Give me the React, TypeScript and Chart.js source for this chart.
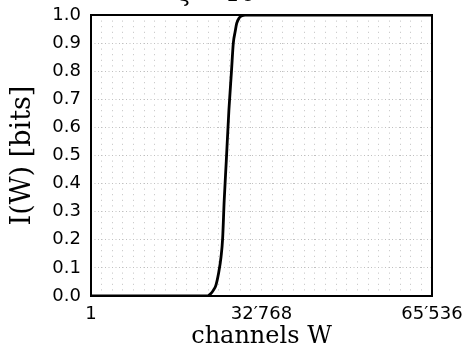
import React, { useEffect, useRef } from "react";
import { Chart, registerables } from "chart.js";

Chart.register(...registerables);

// Data
const channels = [1, 20000, 22000, 22500, 23000, 23500, 24000, 24500, 25000, 25300, 25600, 26000, 26500, 27000, 27350, 27700, 28000, 28500, 29000, 29600, 35000, 65536];
const info = [0, 0, 0, 0.001, 0.008, 0.02, 0.038, 0.079, 0.14, 0.205, 0.34, 0.48, 0.66, 0.8, 0.9, 0.94, 0.97, 0.99, 0.997, 1, 1, 1];

const xLabeledTicks = [1, 32768, 65536];
const xGridStep = 2048;
const xMin = 1;
const xMax = 65536;
const yTickStep = 0.1;

const titleText = "ξ = 10";
const xTitle = "channels W";
const yTitle = "I(W) [bits]";

function fmtThousands(v: number): string {
  return String(v).replace(/\B(?=(\d{3})+(?!\d))/g, "\u2032");
}

const framePlugin = {
  id: "frame",
  afterDraw(chart: any) {
    const { ctx, chartArea } = chart;
    ctx.save();
    ctx.strokeStyle = "#000";
    ctx.lineWidth = 2;
    ctx.setLineDash([]);
    ctx.strokeRect(chartArea.left, chartArea.top, chartArea.right - chartArea.left, chartArea.bottom - chartArea.top);
    ctx.restore();
  },
};

export default function App() {
  const ref = useRef<HTMLCanvasElement>(null);
  useEffect(() => {
    document.body.style.overflow = "hidden";
    const canvas = ref.current!;
    const points = channels.map((c, i) => ({ x: c, y: info[i] }));
    const chart = new Chart(canvas, {
      type: "line",
      data: {
        datasets: [
          {
            data: points,
            borderColor: "#000",
            borderWidth: 2.8,
            pointRadius: 0,
            cubicInterpolationMode: "monotone",
            fill: false,
          },
        ],
      },
      options: {
        animation: false,
        responsive: false,
        devicePixelRatio: 1,
        layout: { padding: { left: 0, right: 33, top: 0, bottom: 0 }, autoPadding: false },
        plugins: {
          legend: { display: false },
          tooltip: { enabled: false },
          title: {
            display: true,
            text: titleText,
            color: "#000",
            font: { family: "DejaVu Serif", size: 24, weight: "normal", lineHeight: 1 },
            padding: { top: 11, bottom: 8 },
          },
        },
        scales: {
          x: {
            type: "linear",
            min: xMin,
            max: xMax,
            afterBuildTicks: (scale: any) => {
              const t: any[] = [{ value: xMin }];
              for (let v = xGridStep; v <= xMax; v += xGridStep) t.push({ value: v });
              scale.ticks = t;
            },
            afterFit: (scale: any) => {
              scale.height = 56;
              scale.paddingLeft = 0;
              scale.paddingRight = 0;
            },
            ticks: {
              autoSkip: false,
              maxRotation: 0,
              padding: 8,
              color: "#000",
              font: { family: "DejaVu Sans", size: 18 },
              callback: (v: any) => (xLabeledTicks.includes(v) ? fmtThousands(v) : ""),
            },
            grid: { color: "#c0c0c0", lineWidth: 1, drawTicks: false },
            border: { display: false, dash: [1, 4.6] },
            title: {
              display: true,
              text: xTitle,
              color: "#000",
              font: { family: "DejaVu Serif", size: 24, lineHeight: 1 },
              padding: 3,
            },
          },
          y: {
            min: 0,
            max: 1,
            afterFit: (scale: any) => {
              scale.width = 91;
              scale.paddingTop = 0;
              scale.paddingBottom = 0;
            },
            ticks: {
              stepSize: yTickStep,
              padding: 10,
              color: "#000",
              font: { family: "DejaVu Sans", size: 18 },
              callback: (v: any) => Number(v).toFixed(1),
            },
            grid: { color: "#c0c0c0", lineWidth: 1, drawTicks: false },
            border: { display: false, dash: [1, 2.5] },
            title: {
              display: true,
              text: yTitle,
              color: "#000",
              font: { family: "DejaVu Serif", size: 27, lineHeight: 1 },
              padding: 9,
            },
          },
        },
      },
      plugins: [framePlugin],
    } as any);
    return () => chart.destroy();
  }, []);
  return (
    <div style={{ position: "absolute", left: 0, top: -28, width: 465, height: 380 }}>
      <canvas ref={ref} width={465} height={380} style={{ width: 465, height: 380, display: "block" }} />
    </div>
  );
}
